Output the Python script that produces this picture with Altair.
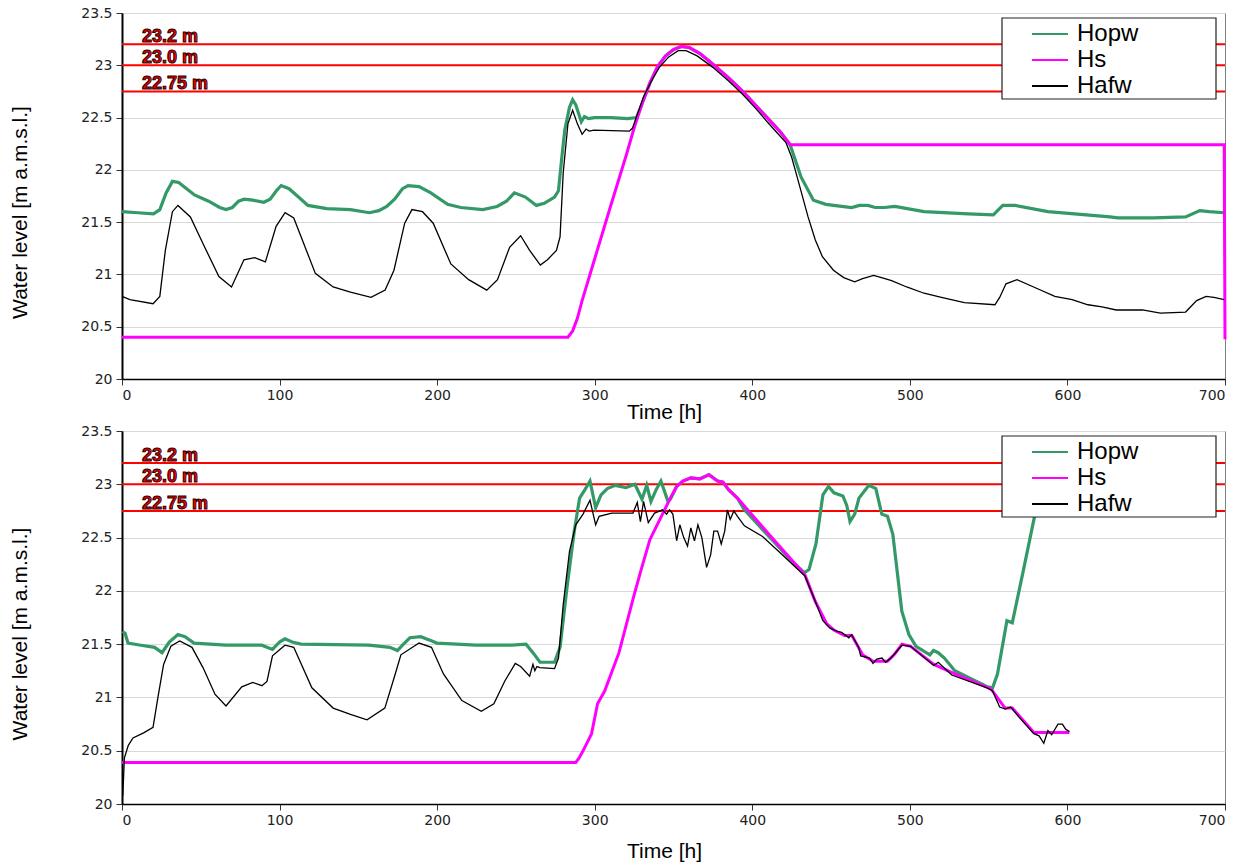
import altair as alt
import pandas as pd

SERIES = ["Hopw", "Hs", "Hafw"]
COLORS = ["#339966", "#ff00ff", "#000000"]
WIDTHS = [3.2, 3.0, 1.3]

ref_values = [23.2, 23.0, 22.75]
ref_labels = ["23.2 m", "23.0 m", "22.75 m"]

y_ticks = [20, 20.5, 21, 21.5, 22, 22.5, 23, 23.5]
x_ticks = [0, 100, 200, 300, 400, 500, 600, 700]

# ---------------- top panel ----------------
top_hopw_t = [0, 10, 20, 24, 28, 32, 36, 41, 46, 55, 62, 66, 70, 74, 77.5, 83, 90, 94, 98, 101, 106, 112, 118,
              130, 145, 157, 163, 168, 173, 178, 181.6, 188.5, 196, 206.6, 215, 229, 238, 244, 249, 256, 263,
              268, 274.5, 277, 279, 281, 284, 286, 288, 291.5, 293.5, 296, 300, 310, 321, 326.5, 330, 335, 340,
              345, 350, 355, 360, 367, 375, 385, 394, 402, 410, 418, 424, 431, 438.8, 446.7, 463, 468, 473.4,
              478, 483.8, 490.5, 509, 537, 553, 555, 559, 566.8, 587.6, 627, 632, 654.5, 675, 684, 690, 699.5]
top_hopw_v = [21.6, 21.59, 21.58, 21.62, 21.78, 21.89, 21.88, 21.82, 21.76, 21.7, 21.64, 21.62, 21.64, 21.7,
              21.72, 21.71, 21.69, 21.72, 21.8, 21.85, 21.82, 21.74, 21.66, 21.63, 21.62, 21.59, 21.61, 21.65,
              21.72, 21.82, 21.85, 21.84, 21.78, 21.67, 21.64, 21.62, 21.65, 21.7, 21.78, 21.74, 21.66, 21.68,
              21.74, 21.8, 22.1, 22.38, 22.6, 22.67, 22.62, 22.46, 22.51, 22.49, 22.5, 22.5, 22.49, 22.5, 22.63,
              22.83, 22.99, 23.09, 23.15, 23.18, 23.17, 23.11, 23.01, 22.88, 22.75, 22.62, 22.49, 22.36, 22.24,
              21.93, 21.71, 21.67, 21.64, 21.66, 21.66, 21.64, 21.64, 21.65, 21.6, 21.58, 21.57, 21.6, 21.66,
              21.66, 21.6, 21.55, 21.54, 21.54, 21.55, 21.61, 21.6, 21.59]

top_hs_t = [0, 283, 286, 289, 292, 300, 310, 320, 325, 330, 335, 340, 345, 350, 355, 360, 367, 375, 385, 394,
            402, 410, 418, 424, 699.5, 700]
top_hs_v = [20.4, 20.4, 20.46, 20.58, 20.75, 21.15, 21.65, 22.14, 22.4, 22.63, 22.83, 22.99, 23.09, 23.15, 23.18,
            23.17, 23.11, 23.01, 22.88, 22.75, 22.62, 22.49, 22.36, 22.24, 22.24, 20.38]

top_hafw_t = [0, 5, 19.7, 24, 27.5, 32, 35.5, 43.4, 52.5, 61.5, 69.5, 77.4, 84.2, 91, 97.8, 103.5, 109, 122.7,
              134, 145, 158, 167, 172.6, 179.4, 184, 190.7, 197.5, 208.7, 220, 231.5, 238.3, 246, 253, 258.7,
              265.5, 270, 275.7, 278, 280, 283, 286, 289, 292, 294.5, 296.5, 299.5, 322, 324, 331, 336, 341,
              347, 353, 358, 365, 375, 385, 394, 402, 410, 416, 421.4, 425, 428.5, 435.4, 440, 444.5, 451.5,
              458, 465, 470, 477, 482, 488.4, 498, 509, 520, 534.6, 554, 557, 561, 568, 580, 592, 603, 613,
              622, 631, 647.6, 659, 675, 682, 688, 693, 699.5]
top_hafw_v = [20.79, 20.76, 20.72, 20.79, 21.23, 21.6, 21.66, 21.55, 21.26, 20.98, 20.88, 21.14, 21.16, 21.12,
              21.46, 21.59, 21.54, 21.01, 20.88, 20.83, 20.78, 20.85, 21.04, 21.49, 21.62, 21.6, 21.49, 21.1,
              20.95, 20.85, 20.95, 21.26, 21.37, 21.23, 21.09, 21.14, 21.23, 21.36, 21.97, 22.44, 22.57, 22.44,
              22.34, 22.39, 22.37, 22.38, 22.37, 22.4, 22.7, 22.85, 22.98, 23.08, 23.14, 23.14, 23.09, 22.98,
              22.85, 22.72, 22.59, 22.45, 22.35, 22.26, 22.12, 21.93, 21.55, 21.33, 21.17, 21.04, 20.97, 20.93,
              20.96, 20.99, 20.97, 20.94, 20.88, 20.82, 20.78, 20.73, 20.71, 20.78, 20.91, 20.95, 20.87, 20.79,
              20.76, 20.71, 20.69, 20.66, 20.66, 20.63, 20.64, 20.75, 20.79, 20.78, 20.76]

# ---------------- bottom panel ----------------
bot_hopw_t = [0.4, 2, 3.8, 12, 20.7, 25.4, 30, 35.5, 40, 45.7, 66, 88.7, 95.5, 100, 103.4, 108, 113.6, 156.7,
              170, 174.8, 178, 182.7, 189.6, 195, 199.8, 224.6, 247.4, 256.4, 260.8, 265.3, 274.5, 278, 282.4,
              287, 290.4, 293.8, 297, 300.6, 304, 308, 313, 319.8, 325.5, 330, 333, 335.7, 339, 342, 346.5, 348,
              352, 356, 361, 366.7, 372.5, 378, 381.4, 384.9, 390.6, 395, 405, 415, 425, 433, 436, 440.4, 444.8,
              448.4, 451.8, 457.5, 460, 462, 465, 467.7, 474, 478.4, 482.2, 485.8, 489.2, 494.9, 499.4, 503.9,
              512.7, 515, 518, 521.9, 528.5, 549, 552.5, 555.6, 561.6, 565, 572, 579, 588]
bot_hopw_v = [21.62, 21.6, 21.51, 21.49, 21.47, 21.42, 21.52, 21.59, 21.57, 21.51, 21.49, 21.49, 21.45, 21.52,
              21.55, 21.52, 21.5, 21.49, 21.47, 21.44, 21.49, 21.56, 21.57, 21.54, 21.51, 21.49, 21.49, 21.5,
              21.42, 21.33, 21.33, 21.47, 22.03, 22.56, 22.87, 22.95, 23.03, 22.78, 22.9, 22.96, 22.99, 22.97,
              23.0, 22.86, 22.99, 22.84, 22.95, 23.03, 22.84, 22.86, 22.98, 23.03, 23.06, 23.05, 23.09, 23.03,
              23.02, 22.95, 22.87, 22.76, 22.6, 22.44, 22.28, 22.17, 22.2, 22.44, 22.9, 22.98, 22.92, 22.89,
              22.8, 22.65, 22.72, 22.87, 22.99, 22.96, 22.72, 22.7, 22.53, 21.81, 21.59, 21.48, 21.4, 21.44,
              21.42, 21.37, 21.25, 21.1, 21.09, 21.22, 21.72, 21.7, 22.19, 22.69, 23.35]

bot_hs_t = [0, 288, 290, 292.6, 296, 298, 301.8, 306.3, 315.4, 324.8, 329.3, 335, 343, 348, 352, 356, 361, 366.7,
            372.5, 378, 381.4, 384.9, 390.6, 410, 425, 433.4, 440, 447.3, 452, 458.6, 463.2, 470, 476.6, 485.8,
            490, 495, 500.5, 515.2, 528.6, 551.5, 560.4, 565, 578.7, 601.3]
bot_hs_v = [20.39, 20.39, 20.43, 20.5, 20.6, 20.66, 20.94, 21.06, 21.42, 21.95, 22.19, 22.48, 22.72, 22.87, 22.98,
            23.03, 23.06, 23.05, 23.09, 23.03, 23.02, 22.95, 22.87, 22.54, 22.29, 22.15, 21.9, 21.69, 21.63,
            21.58, 21.58, 21.4, 21.34, 21.34, 21.4, 21.5, 21.48, 21.31, 21.22, 21.08, 20.9, 20.9, 20.67, 20.67]

bot_hafw_t = [0.5, 1.5, 4, 7, 14, 19.7, 22.8, 26.4, 31, 36.6, 44.4, 51.4, 59, 66, 76, 83, 88.8, 92, 95.5, 103.4,
              109, 120.5, 134, 145, 155.5, 166.8, 172.6, 177, 188.5, 196.4, 204, 215.7, 228, 236, 242.8, 249.6,
              253, 258.7, 260.8, 262, 263.3, 265.3, 274.5, 277, 280, 284, 288, 292.6, 297, 300.6, 302.8, 310.8,
              324.3, 327, 329, 331, 334, 338, 343, 345.6, 347.5, 349.6, 352, 354, 356.5, 358.9, 361, 363.3,
              365.5, 368, 371, 373.6, 375.6, 378, 380.3, 382.5, 384.2, 386, 388.3, 390.6, 395, 406.5, 417.5,
              433.4, 440, 444.8, 449.3, 454, 456.7, 461.3, 463, 467.5, 468.8, 474.4, 476.6, 479, 482.3, 484.6,
              488, 495, 500.5, 515.2, 518, 526.6, 549, 552.5, 557, 560.6, 564, 569.6, 578.7, 582, 585, 587.6,
              590, 594, 596.8, 599, 601.3]
bot_hafw_v = [20.08, 20.43, 20.55, 20.62, 20.67, 20.72, 21.0, 21.31, 21.48, 21.53, 21.47, 21.28, 21.03, 20.92,
              21.1, 21.14, 21.11, 21.15, 21.39, 21.49, 21.47, 21.09, 20.9, 20.84, 20.79, 20.9, 21.18, 21.4,
              21.51, 21.47, 21.22, 20.97, 20.87, 20.94, 21.15, 21.32, 21.29, 21.2, 21.31, 21.25, 21.29, 21.28,
              21.27, 21.37, 21.87, 22.37, 22.62, 22.72, 22.85, 22.62, 22.7, 22.73, 22.73, 22.83, 22.65, 22.84,
              22.64, 22.73, 22.76, 22.72, 22.76, 22.72, 22.47, 22.62, 22.5, 22.42, 22.59, 22.47, 22.62, 22.5,
              22.22, 22.34, 22.56, 22.56, 22.44, 22.56, 22.76, 22.67, 22.75, 22.7, 22.61, 22.51, 22.36, 22.14,
              21.9, 21.72, 21.65, 21.62, 21.61, 21.56, 21.59, 21.47, 21.39, 21.37, 21.32, 21.36, 21.37, 21.33,
              21.37, 21.49, 21.48, 21.3, 21.33, 21.21, 21.09, 21.06, 20.91, 20.89, 20.91, 20.81, 20.66, 20.64,
              20.57, 20.69, 20.65, 20.75, 20.75, 20.7, 20.68]


def frame(pairs):
    rows = []
    for name, ts, vs in pairs:
        for t, v in zip(ts, vs):
            rows.append({"series": name, "t": t, "v": v})
    return pd.DataFrame(rows)


top_df = frame([("Hopw", top_hopw_t, top_hopw_v), ("Hs", top_hs_t, top_hs_v), ("Hafw", top_hafw_t, top_hafw_v)])
bot_df = frame([("Hopw", bot_hopw_t, bot_hopw_v), ("Hs", bot_hs_t, bot_hs_v), ("Hafw", bot_hafw_t, bot_hafw_v)])
ref_df = pd.DataFrame({"v": ref_values, "label": ref_labels})
box_df = pd.DataFrame({"box": ["legend"]})

xscale = alt.Scale(domain=[0, 700], nice=False, zero=False)
yscale = alt.Scale(domain=[20, 23.5], nice=False, zero=False)


def make_panel(df, height, title_y):
    xaxis = alt.Axis(values=x_ticks, format="d", title="Time [h]", grid=False, titleX=542, titleY=title_y,
                     domainWidth=1.5, labelPadding=3)
    yaxis = alt.Axis(values=y_ticks, format="~g", title="Water level [m a.m.s.l.]", grid=True,
                     titleX=-92, titleY=height / 2 + 16, domainWidth=2, labelPadding=4)
    xenc = alt.X("t:Q", scale=xscale, axis=xaxis)
    yenc = alt.Y("v:Q", scale=yscale, axis=yaxis)
    legend = alt.Legend(title=None, orient="none", legendX=880, legendY=6,
                        symbolType="M-1.5,0H1.5", symbolSize=576, symbolStrokeWidth=2,
                        symbolOffset=33, labelOffset=14,
                        labelFontSize=24, labelFont="Liberation Sans", labelColor="black",
                        padding=2, rowPadding=1)
    cenc = alt.Color("series:N", scale=alt.Scale(domain=SERIES, range=COLORS), legend=legend)

    rules = alt.Chart(ref_df).mark_rule(color="#ff0000", strokeWidth=2).encode(
        y=alt.Y("v:Q", scale=yscale, axis=yaxis))
    labels = alt.Chart(ref_df).mark_text(
        align="left", baseline="alphabetic", dy=-2, fontSize=18, fontWeight="bold",
        font="Liberation Sans", fill="#ff0000", stroke="#2a0000", strokeWidth=1
    ).encode(x=alt.value(20), y=alt.Y("v:Q", scale=yscale, axis=yaxis), text="label:N")
    box = alt.Chart(box_df).mark_rect(fill="white", stroke="#222222", strokeWidth=1.2).encode(
        x=alt.value(880), x2=alt.value(1094), y=alt.value(5), y2=alt.value(86))

    layers = []
    for name, w in zip(SERIES, WIDTHS):
        layers.append(
            alt.Chart(df).transform_filter(alt.datum.series == name)
            .mark_line(strokeWidth=w, interpolate="linear")
            .encode(x=xenc, y=yenc, color=cenc)
        )
    return alt.layer(rules, *layers, box, labels).properties(width=1103, height=height)


top = make_panel(top_df, 366, 22)
bottom = make_panel(bot_df, 373, 36)

chart = (
    alt.vconcat(top, bottom, spacing=0)
    .resolve_scale(color="independent")
    .resolve_legend(color="independent")
    .properties(padding={"left": 8, "top": 5, "right": 5, "bottom": 0})
    .configure_view(stroke="#808080", strokeWidth=1)
    .configure_axis(labelFont="DejaVu Sans", labelFontSize=14, labelColor="#222222",
                    titleFont="Liberation Sans", titleFontSize=21, titleFontWeight="normal",
                    titleColor="black", gridColor="#d9d9d9", gridWidth=1.2,
                    domainColor="black", tickColor="#333333", tickSize=6)
)

chart.save("out.html", embed_options={"renderer": "svg", "actions": False})
